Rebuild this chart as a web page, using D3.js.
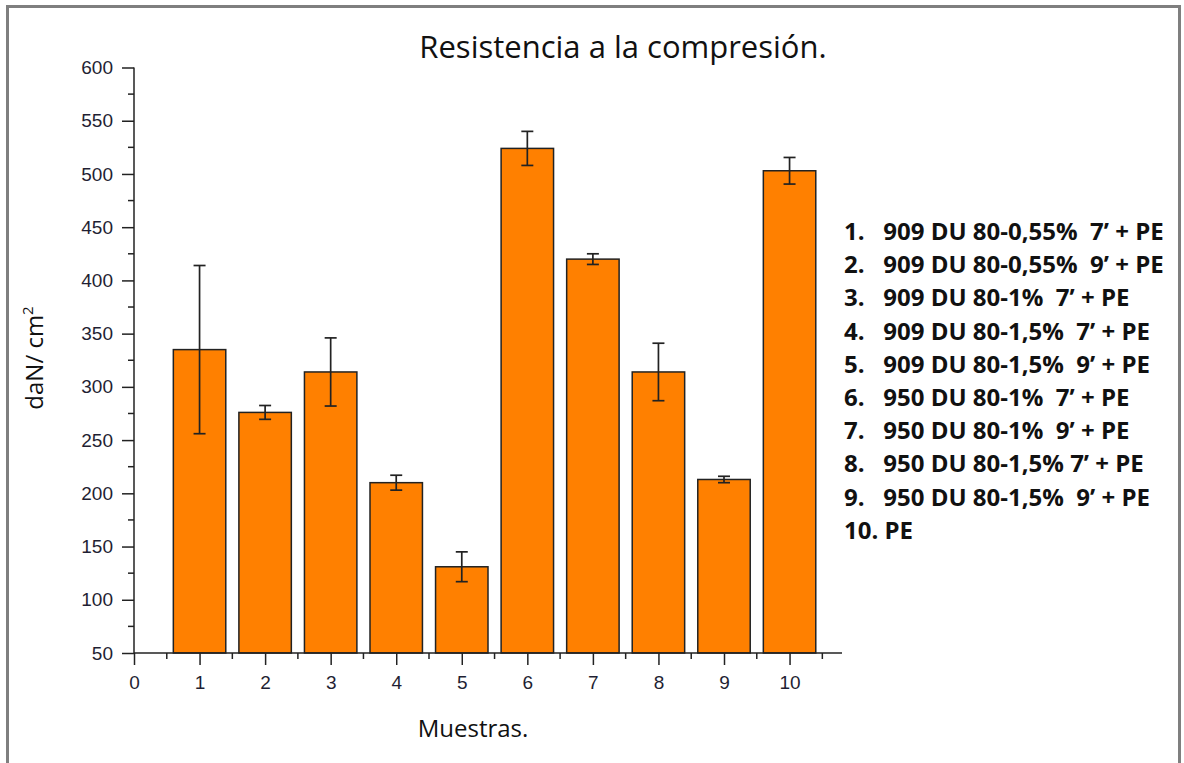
<!DOCTYPE html>
<html>
<head>
<meta charset="utf-8">
<script src="https://cdn.jsdelivr.net/npm/d3@7"></script>
<style>
  html, body { margin: 0; padding: 0; background: #fff; }
  svg { display: block; }
</style>
</head>
<body>
<svg id="chart" width="1184" height="763"></svg>
<script>
// Compressive strength per sample (daN/cm²) with standard deviation
const samples = [1, 2, 3, 4, 5, 6, 7, 8, 9, 10];
const strength = [335, 276, 314, 210, 131, 524, 420, 314, 213, 503];
const deviation = [79, 6.5, 32, 7, 14, 16, 5, 27, 3, 12.5];
const yTicks = [50, 100, 150, 200, 250, 300, 350, 400, 450, 500, 550, 600];
const xTicks = [0, 1, 2, 3, 4, 5, 6, 7, 8, 9, 10];
const legendItems = [
  "1.   909 DU 80-0,55%  7\u2019 + PE",
  "2.   909 DU 80-0,55%  9\u2019 + PE",
  "3.   909 DU 80-1%  7\u2019 + PE",
  "4.   909 DU 80-1,5%  7\u2019 + PE",
  "5.   909 DU 80-1,5%  9\u2019 + PE",
  "6.   950 DU 80-1%  7\u2019 + PE",
  "7.   950 DU 80-1%  9\u2019 + PE",
  "8.   950 DU 80-1,5% 7\u2019 + PE",
  "9.   950 DU 80-1,5%  9\u2019 + PE",
  "10. PE"
];

const svg = d3.select("#chart");

// outer frame
svg.append("rect")
  .attr("x", 7.5).attr("y", 6.5)
  .attr("width", 1172).attr("height", 770)
  .attr("fill", "none").attr("stroke", "#7f7f7f").attr("stroke-width", 3);

const x = d3.scaleLinear().domain([0, 10.8]).range([134, 842]);
const y = d3.scaleLinear().domain([50, 600]).range([653, 67.5]);

const axisFont = "'Liberation Sans', Arial, sans-serif";
const textColor = "#1f1f33";

// bars
const barHalf = 0.4;
svg.append("g").selectAll("rect")
  .data(samples)
  .join("rect")
  .attr("x", (d) => x(d - barHalf))
  .attr("width", (d) => x(d + barHalf) - x(d - barHalf))
  .attr("y", (d, i) => y(strength[i]))
  .attr("height", (d, i) => y(50) - y(strength[i]))
  .attr("fill", "#ff8000")
  .attr("stroke", "#222")
  .attr("stroke-width", 1.5);

// error bars
const err = svg.append("g").attr("stroke", "#222").attr("stroke-width", 1.7);
samples.forEach((d, i) => {
  const cx = x(d);
  const hi = y(strength[i] + deviation[i]);
  const lo = y(strength[i] - deviation[i]);
  err.append("line").attr("x1", cx).attr("x2", cx).attr("y1", hi).attr("y2", lo);
  err.append("line").attr("x1", cx - 6).attr("x2", cx + 6).attr("y1", hi).attr("y2", hi);
  err.append("line").attr("x1", cx - 6).attr("x2", cx + 6).attr("y1", lo).attr("y2", lo);
});

// y axis with minor ticks
const yMinor = d3.range(75, 600, 50);
const yAxisG = svg.append("g").attr("transform", "translate(134,0)");
yAxisG.call(d3.axisLeft(y).tickValues(yTicks).tickSize(12).tickPadding(9).tickFormat(d3.format("d")));
yAxisG.append("g").selectAll("line").data(yMinor).join("line")
  .attr("x1", -6).attr("x2", 0).attr("y1", (d) => y(d)).attr("y2", (d) => y(d))
  .attr("stroke", "#222").attr("stroke-width", 1.5);

// x axis with minor ticks
const xMinor = d3.range(0.5, 11, 1);
const xAxisG = svg.append("g").attr("transform", "translate(0,653)");
xAxisG.call(d3.axisBottom(x).tickValues(xTicks).tickSize(12).tickPadding(11).tickFormat(d3.format("d")));
xAxisG.append("g").selectAll("line").data(xMinor).join("line")
  .attr("x1", (d) => x(d)).attr("x2", (d) => x(d)).attr("y1", 0).attr("y2", 6)
  .attr("stroke", "#222").attr("stroke-width", 1.5);

[yAxisG, xAxisG].forEach((g) => {
  g.attr("font-size", null);
  g.select(".domain").attr("stroke", "#222").attr("stroke-width", 1.5);
  g.selectAll(".tick line").attr("stroke", "#222").attr("stroke-width", 1.5);
  g.selectAll(".tick text")
    .attr("fill", textColor)
    .style("font-family", axisFont)
    .style("font-size", "19px");
});
// plain axis lines without end stubs
yAxisG.select(".domain").attr("d", `M0,${y(600)}V${y(50)}`);
xAxisG.select(".domain").attr("d", `M${x(0)},0H${x(10.8)}`);

// title and axis labels
const labelFont = "'Open Sans', 'Noto Sans', sans-serif";
svg.append("text")
  .attr("x", 623).attr("y", 58)
  .attr("text-anchor", "middle")
  .style("font-family", labelFont).style("font-size", "31px")
  .attr("fill", "#111")
  .text("Resistencia a la compresión.");

svg.append("text")
  .attr("x", 473).attr("y", 737)
  .attr("text-anchor", "middle")
  .style("font-family", labelFont).style("font-size", "24px")
  .attr("fill", "#111")
  .text("Muestras.");

const yl = svg.append("text")
  .attr("transform", "translate(43,358) rotate(-90)")
  .attr("text-anchor", "middle")
  .style("font-family", labelFont).style("font-size", "24px")
  .attr("fill", "#111");
yl.append("tspan").text("daN/ cm");
yl.append("tspan").attr("dy", -10).style("font-size", "15px").text("2");

// sample legend
svg.append("g").selectAll("text")
  .data(legendItems)
  .join("text")
  .attr("x", 844)
  .attr("y", (d, i) => 240 + i * 33.2)
  .attr("xml:space", "preserve")
  .style("white-space", "pre")
  .style("font-family", labelFont)
  .style("font-weight", "bold")
  .style("font-size", "24px")
  .attr("fill", "#111")
  .text((d) => d);
</script>
</body>
</html>
